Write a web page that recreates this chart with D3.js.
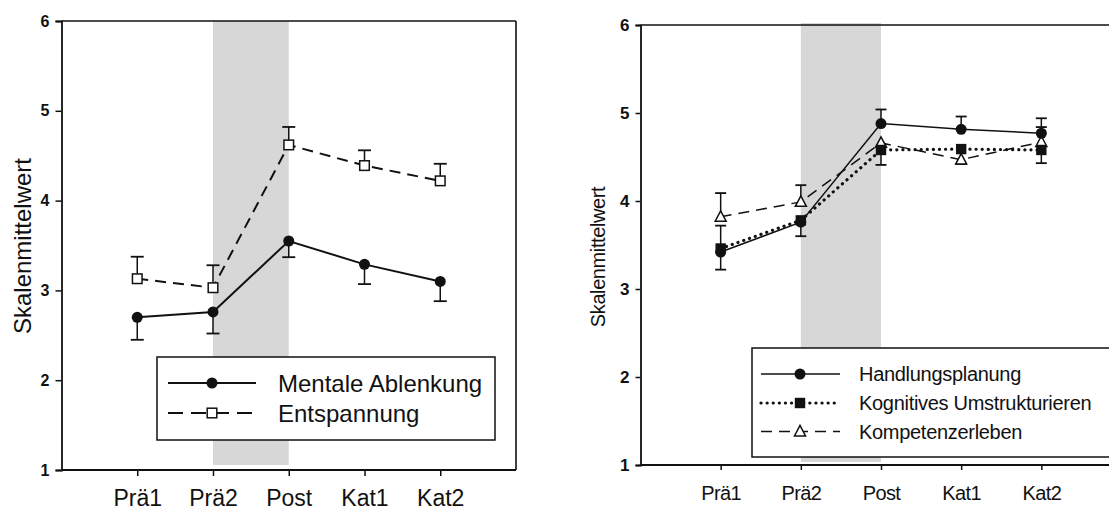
<!DOCTYPE html>
<html><head><meta charset="utf-8">
<script src="https://cdn.jsdelivr.net/npm/d3@7"></script>
<style>
html,body{margin:0;padding:0;background:#fff;}
svg{display:block;font-family:"Liberation Sans",Arial,sans-serif;}
</style></head>
<body>
<svg id="c" width="1109" height="513"></svg>
<script>
const categories = ["Prä1","Prä2","Post","Kat1","Kat2"];
const yTicks = [1,2,3,4,5,6];
// Left panel
const mentale = [2.70, 2.76, 3.55, 3.29, 3.10];
const mentaleErr = [2.45, 2.52, 3.37, 3.07, 2.88];
const entspannung = [3.13, 3.03, 4.62, 4.39, 4.22];
const entspannungErr = [3.375, 3.28, 4.82, 4.56, 4.41];
const leftLegend = ["Mentale Ablenkung","Entspannung"];
// Right panel
const handlung = [3.42, 3.76, 4.88, 4.815, 4.77];
const handlungErr = [3.22, null, 5.04, 4.96, 4.94];
const kognitiv = [3.46, 3.78, 4.58, 4.59, 4.58];
const kognitivErr = [3.72, 3.60, 4.41, null, 4.43];
const kompetenz = [3.82, 3.99, 4.66, 4.47, 4.67];
const kompetenzErr = [4.09, 4.18, null, 4.42, 4.84];
const rightLegend = ["Handlungsplanung","Kognitives Umstrukturieren","Kompetenzerleben"];
const shadeFrom = "Prä2", shadeTo = "Post";

const svg = d3.select("#c");
const INK = "#111";
const FF = '"Liberation Sans",Arial,sans-serif';

function panel(cfg){
  const g = svg.append("g");
  const x = d3.scaleLinear().domain([-1,5]).range([cfg.x0, cfg.x1]);
  const xi = c => x(categories.indexOf(c));
  const y = d3.scaleLinear().domain([1,6]).range([cfg.yb, cfg.yt]);
  g.append("rect").attr("x", xi(shadeFrom)).attr("width", xi(shadeTo)-xi(shadeFrom))
    .attr("y", cfg.yt+cfg.shadeTop).attr("height", cfg.yb - cfg.shadeBot - cfg.yt - cfg.shadeTop)
    .attr("fill", "#d7d7d7");
  g.append("line").attr("x1", cfg.x0).attr("x2", cfg.frameRight).attr("y1", cfg.yt).attr("y2", cfg.yt)
    .attr("stroke", INK).attr("stroke-width", 1.6);
  if (cfg.frameRight < 1109) {
    g.append("line").attr("x1", cfg.frameRight).attr("x2", cfg.frameRight).attr("y1", cfg.yt).attr("y2", cfg.yb)
      .attr("stroke", INK).attr("stroke-width", 1.6);
  }
  const ya = d3.axisLeft(y).tickValues(yTicks).tickSize(cfg.tick).tickPadding(cfg.tickPad).tickFormat(d3.format("d"));
  const yg = g.append("g").attr("transform", `translate(${cfg.x0},0)`).call(ya);
  yg.attr("font-size", null).attr("font-family", null);
  yg.select(".domain").attr("stroke", INK).attr("stroke-width", 1.8);
  yg.selectAll(".tick line").attr("stroke", INK).attr("stroke-width", 1.5);
  yg.selectAll(".tick text").style("font-size", cfg.yTickFont + "px").style("font-weight", "bold")
    .style("font-family", FF).attr("fill", INK);
  const xa = d3.axisBottom(x).tickValues(d3.range(categories.length)).tickSize(cfg.tick)
    .tickFormat(i => categories[i]).tickPadding(cfg.xPad);
  const xg = g.append("g").attr("transform", `translate(0,${cfg.yb})`).call(xa);
  xg.attr("font-size", null).attr("font-family", null);
  xg.select(".domain").attr("d", `M${cfg.x0},0H${cfg.axisRight}`).attr("stroke", INK).attr("stroke-width", 1.8);
  xg.selectAll(".tick line").attr("stroke", INK).attr("stroke-width", 1.5);
  xg.selectAll(".tick text").style("font-size", cfg.xFont + "px").style("letter-spacing", cfg.xLs + "px")
    .style("font-family", FF).attr("fill", INK);
  g.append("text").attr("transform", `translate(${cfg.titleX},${cfg.titleY}) rotate(-90)`)
    .attr("text-anchor", "middle").attr("dominant-baseline", "central")
    .attr("font-size", cfg.titleFont).attr("letter-spacing", cfg.titleLs).attr("fill", INK).text("Skalenmittelwert");
  return {g, x, y};
}

function marker(g, type, cx, cy, s){
  if (type === "circle") g.append("circle").attr("cx", cx).attr("cy", cy).attr("r", s).attr("fill", INK);
  else if (type === "square") g.append("rect").attr("x", cx-s).attr("y", cy-s).attr("width", 2*s).attr("height", 2*s).attr("fill", INK);
  else if (type === "osquare") g.append("rect").attr("x", cx-s).attr("y", cy-s).attr("width", 2*s).attr("height", 2*s).attr("fill", "#fff").attr("stroke", INK).attr("stroke-width", 1.5);
  else if (type === "otri") g.append("path").attr("d", `M${cx},${cy-s*1.1}L${cx+s},${cy+s*0.8}L${cx-s},${cy+s*0.8}Z`).attr("fill", "#fff").attr("stroke", INK).attr("stroke-width", 1.5);
}

function series(P, vals, errs, st){
  const line = d3.line().x((d,i) => P.x(i)).y(d => P.y(d));
  errs.forEach((e,i) => {
    if (e == null) return;
    const cx = P.x(i);
    P.g.append("line").attr("x1", cx).attr("x2", cx).attr("y1", P.y(vals[i])).attr("y2", P.y(e)).attr("stroke", INK).attr("stroke-width", 1.5);
    P.g.append("line").attr("x1", cx-st.cap).attr("x2", cx+st.cap).attr("y1", P.y(e)).attr("y2", P.y(e)).attr("stroke", INK).attr("stroke-width", 1.8);
  });
  P.g.append("path").datum(vals).attr("d", line).attr("fill", "none").attr("stroke", INK)
    .attr("stroke-width", st.w).attr("stroke-dasharray", st.dash).attr("stroke-linecap", st.cap2 || "butt");
  vals.forEach((v,i) => marker(P.g, st.mk, P.x(i), P.y(v), st.ms));
}

function legend(P, box, items, fs, ls){
  P.g.append("rect").attr("x", box.x).attr("y", box.y).attr("width", box.w).attr("height", box.h)
    .attr("fill", "#fff").attr("stroke", INK).attr("stroke-width", 1.5);
  items.forEach((it, k) => {
    const cy = box.rows[k];
    P.g.append("line").attr("x1", box.l1).attr("x2", box.l2).attr("y1", cy).attr("y2", cy)
      .attr("stroke", INK).attr("stroke-width", it.st.w).attr("stroke-dasharray", it.st.dash).attr("stroke-linecap", it.st.cap2 || "butt");
    marker(P.g, it.st.mk, box.mx, cy, it.st.ms);
    P.g.append("text").attr("x", box.tx).attr("y", cy).attr("dominant-baseline", "central")
      .attr("font-size", fs).attr("letter-spacing", ls).attr("fill", INK).text(it.label);
  });
}

// LEFT
const L = panel({x0:61.5, x1:516, yb:470, yt:21, frameRight:516, axisRight:516, tick:6, tickPad:6,
  yTickFont:16, xFont:23, xLs:0, xPad:14, titleX:22.5, titleY:246, titleFont:24, titleLs:0,
  shadeTop:0, shadeBot:5});
const stM = {mk:"circle", ms:5.5, w:2, dash:null, cap:6.5};
const stE = {mk:"osquare", ms:4.8, w:2, dash:"11,7", cap:6.5};
series(L, mentale, mentaleErr, stM);
series(L, entspannung, entspannungErr, stE);
legend(L, {x:157, y:357, w:338, h:83, rows:[383,413], l1:168, l2:256, mx:212, tx:278},
  [{label:leftLegend[0], st:stM},{label:leftLegend[1], st:{...stE, dash:"15,8"}}], 24, 0);

// RIGHT
const R = panel({x0:640.5, x1:1121.5, yb:465, yt:25, frameRight:1120, axisRight:1109, tick:5, tickPad:6,
  yTickFont:17, xFont:20, xLs:-0.6, xPad:16, titleX:598, titleY:257, titleFont:20, titleLs:-0.4,
  shadeTop:-2, shadeBot:3});
const stH = {mk:"circle", ms:5.5, w:1.5, dash:null, cap:5.5};
const stK = {mk:"square", ms:5.2, w:3.2, dash:"0.1,6", cap:5.5, cap2:"round"};
const stC = {mk:"otri", ms:5.5, w:1.5, dash:"11,7", cap:5.5};
series(R, kompetenz, kompetenzErr, stC);
series(R, kognitiv, kognitivErr, stK);
series(R, handlung, handlungErr, stH);
legend(R, {x:752, y:348, w:400, h:109, rows:[374,403,431.5], l1:761, l2:840, mx:800, tx:859},
  [{label:rightLegend[0], st:stH},{label:rightLegend[1], st:stK},{label:rightLegend[2], st:stC}], 20, -0.3);
</script>
</body></html>
